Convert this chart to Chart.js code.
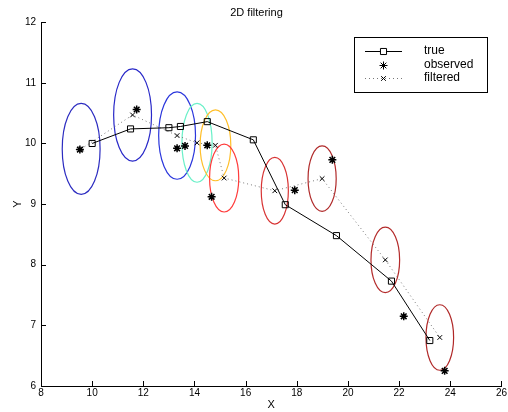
<!DOCTYPE html>
<html><head><meta charset="utf-8">
<script src="https://cdn.jsdelivr.net/npm/chart.js@4/dist/chart.umd.min.js"></script>
<style>html,body{margin:0;padding:0;background:#fff}#wrap{width:508px;height:412px}</style>
</head><body><div id="wrap"><canvas id="c" width="508" height="412"></canvas></div>
<script>
const trueX = [10.0, 11.5, 13.0, 13.45, 14.5, 16.3, 17.55, 19.55, 21.7, 23.2];
const trueY = [10.0, 10.24, 10.26, 10.28, 10.36, 10.06, 8.99, 8.48, 7.73, 6.75];
const obsX = [9.52, 11.74, 13.32, 13.63, 14.5, 14.67, 17.92, 19.39, 22.18, 23.78];
const obsY = [9.90, 10.56, 9.92, 9.96, 9.97, 9.12, 9.23, 9.73, 7.15, 6.25];
const filtX = [9.57, 11.58, 13.32, 14.1, 14.82, 15.16, 17.14, 18.99, 21.46, 23.59];
const filtY = [9.91, 10.47, 10.13, 10.01, 9.97, 9.43, 9.22, 9.42, 8.08, 6.80];
const ellRX = [0.74, 0.74, 0.72, 0.59, 0.60, 0.57, 0.53, 0.55, 0.56, 0.54];
const ellRY = [0.75, 0.76, 0.72, 0.65, 0.585, 0.56, 0.55, 0.54, 0.54, 0.54];
const ellColors = ['#2c2cc0','#2828c8','#2a36dc','#6af0c8','#ffbf2a','#ff3c3c','#d83434','#b02a2a','#b42c2c','#b02828'];
const xTicks = [8,10,12,14,16,18,20,22,24,26];
const yTicks = [6,7,8,9,10,11,12];
const seriesLabels = ['true','observed','filtered'];

const pts = (xs, ys) => xs.map((x, i) => ({x: x, y: ys[i]}));

const ellipsePlugin = {
  id: 'ellipses',
  beforeDatasetsDraw(chart) {
    const ctx = chart.ctx, xs = chart.scales.x, ys = chart.scales.y;
    ctx.save();
    for (let i = 0; i < filtX.length; i++) {
      const cx = xs.getPixelForValue(filtX[i]);
      const cy = ys.getPixelForValue(filtY[i]);
      const rx = Math.abs(xs.getPixelForValue(filtX[i] + ellRX[i]) - cx);
      const ry = Math.abs(ys.getPixelForValue(filtY[i] + ellRY[i]) - cy);
      ctx.beginPath();
      ctx.ellipse(cx, cy, rx, ry, 0, 0, Math.PI * 2);
      ctx.strokeStyle = ellColors[i];
      ctx.lineWidth = 1.2;
      ctx.stroke();
    }
    ctx.restore();
  }
};

const ticksPlugin = {
  id: 'inTicks',
  afterDraw(chart) {
    const ctx = chart.ctx, xs = chart.scales.x, ys = chart.scales.y;
    const a = chart.chartArea;
    ctx.save();
    ctx.strokeStyle = '#000';
    ctx.lineWidth = 1;
    ctx.beginPath();
    xTicks.forEach(v => {
      const px = Math.round(xs.getPixelForValue(v)) + 0.5;
      ctx.moveTo(px, a.bottom); ctx.lineTo(px, a.bottom - 5);
    });
    yTicks.forEach(v => {
      const py = Math.round(ys.getPixelForValue(v)) + 0.5;
      ctx.moveTo(a.left, py); ctx.lineTo(a.left + 5, py);
    });
    ctx.stroke();

    // legend box
    const bx = 354, by = 37, bw = 133, bh = 55;
    ctx.fillStyle = '#fff';
    ctx.fillRect(bx, by, bw, bh);
    ctx.strokeStyle = '#000';
    ctx.strokeRect(bx + 0.5, by + 0.5, bw, bh);
    const rows = [51, 65, 78];
    ctx.font = '12px "Liberation Sans", Arial, sans-serif';
    ctx.textBaseline = 'middle';
    ctx.textAlign = 'left';
    chart.data.datasets.forEach((ds, i) => {
      const y = rows[i];
      if (ds.showLine) {
        ctx.save();
        ctx.beginPath();
        ctx.strokeStyle = ds.borderColor;
        ctx.lineWidth = ds.borderWidth;
        ctx.setLineDash(ds.borderDash || []);
        ctx.moveTo(365, y + 0.5); ctx.lineTo(402, y + 0.5);
        ctx.stroke();
        ctx.restore();
      }
      ctx.save();
      Chart.helpers.drawPoint(ctx, {
        pointStyle: ds.pointStyle, radius: ds.pointRadius, rotation: 0,
        borderWidth: ds.pointBorderWidth
      }, 383.5, y + 0.5);
      ctx.restore();
      ctx.fillStyle = '#000';
      ctx.fillText(ds.label, 424, y);
    });
    ctx.restore();
  }
};

new Chart(document.getElementById('c'), {
  type: 'scatter',
  data: {
    datasets: [
      { label: seriesLabels[0], data: pts(trueX, trueY), showLine: true,
        borderColor: '#000', borderWidth: 1, pointStyle: 'rect', pointRadius: 4.3,
        pointBorderColor: '#000', pointBackgroundColor: 'rgba(0,0,0,0)', pointBorderWidth: 1 },
      { label: seriesLabels[1], data: pts(obsX, obsY), showLine: false,
        borderColor: '#000', pointStyle: 'star', pointRadius: 4,
        pointBorderColor: '#000', pointBackgroundColor: '#000', pointBorderWidth: 1.5 },
      { label: seriesLabels[2], data: pts(filtX, filtY), showLine: true,
        borderColor: '#777', borderWidth: 1, borderDash: [1, 3], pointStyle: 'crossRot', pointRadius: 3.3,
        pointBorderColor: '#000', pointBackgroundColor: '#000', pointBorderWidth: 1 }
    ]
  },
  options: {
    responsive: false, animation: false,
    layout: { padding: { left: 11, right: 6, top: 0, bottom: 0 } },
    plugins: {
      legend: { display: false },
      tooltip: { enabled: false },
      title: { display: true, text: '2D filtering', color: '#000',
        font: { family: '"Liberation Sans", Arial, sans-serif', size: 11, weight: 'normal' },
        padding: { top: 6, bottom: 3 } }
    },
    scales: {
      x: { type: 'linear', min: 8, max: 26,
        afterBuildTicks: s => { s.ticks = xTicks.map(v => ({value: v})); },
        afterFit: s => { s.height = 26; },
        grid: { display: false, drawTicks: false },
        border: { display: true, color: '#000', width: 1 },
        ticks: { color: '#000', padding: 1, maxRotation: 0,
          font: { family: '"Liberation Sans", Arial, sans-serif', size: 10 } },
        title: { display: true, text: 'X', color: '#000', padding: { top: 0, bottom: 0 },
          font: { family: '"Liberation Sans", Arial, sans-serif', size: 11 } } },
      y: { type: 'linear', min: 6, max: 12,
        afterBuildTicks: s => { s.ticks = yTicks.map(v => ({value: v})); },
        afterFit: s => { s.width = 30; },
        grid: { display: false, drawTicks: false },
        border: { display: true, color: '#000', width: 1 },
        ticks: { color: '#000', padding: 5,
          font: { family: '"Liberation Sans", Arial, sans-serif', size: 10 } },
        title: { display: true, text: 'Y', color: '#000', padding: { top: 0, bottom: 0 },
          font: { family: '"Liberation Sans", Arial, sans-serif', size: 11 } } }
    }
  },
  plugins: [ellipsePlugin, ticksPlugin]
});
</script></body></html>
